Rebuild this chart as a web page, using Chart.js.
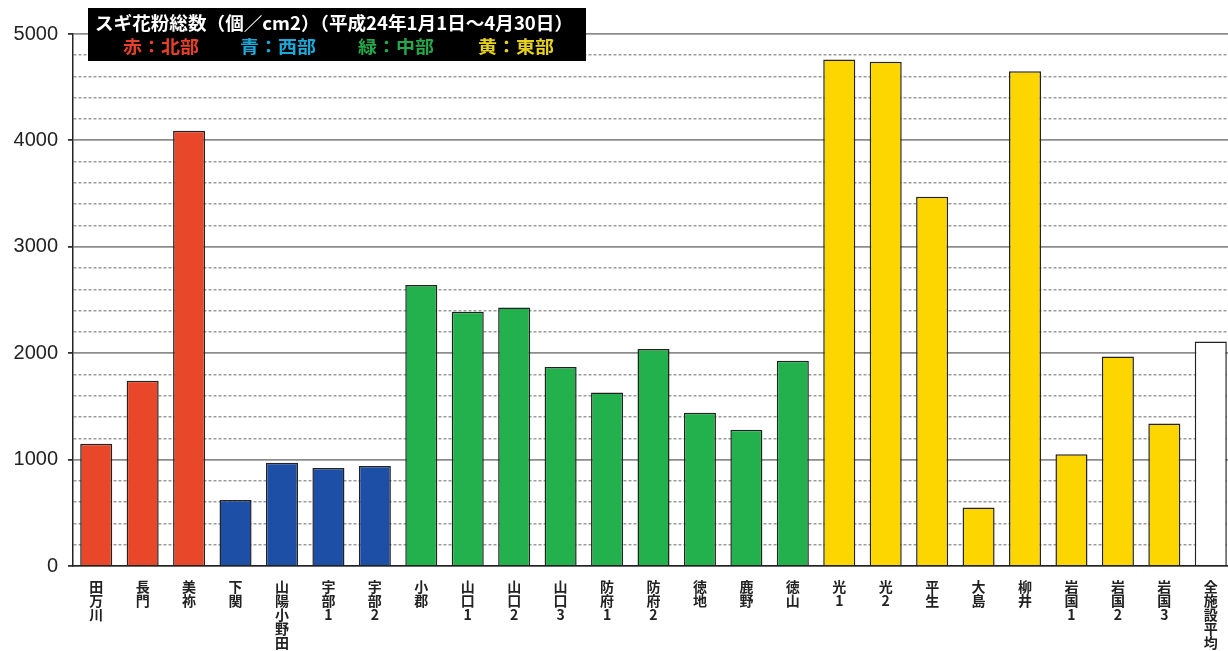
<!DOCTYPE html>
<html lang="ja">
<head>
<meta charset="utf-8">
<title>スギ花粉総数</title>
<script src="https://cdn.jsdelivr.net/npm/chart.js@4.4.3/dist/chart.umd.min.js"></script>
<style>
  html, body { margin: 0; padding: 0; background: #fff; overflow: hidden; }
  .wrap { width: 1234px; height: 651px; }
</style>
</head>
<body>
<div class="wrap"><canvas id="pollenChart"></canvas></div>
<script>
// sites, left to right
const sites = ['田万川', '長門', '美祢', '下関', '山陽小野田', '宇部1', '宇部2',
  '小郡', '山口1', '山口2', '山口3', '防府1', '防府2', '徳地', '鹿野', '徳山',
  '光1', '光2', '平生', '大島', '柳井', '岩国1', '岩国2', '岩国3', '全施設平均'];

// total cedar pollen (個/cm2)
const pollenCounts = [1150, 1740, 4090, 620, 970, 920, 940,
  2640, 2390, 2430, 1870, 1630, 2040, 1440, 1280, 1930,
  4760, 4740, 3470, 550, 4650, 1050, 1970, 1340, 2110];

const siteRegions = ['north', 'north', 'north', 'west', 'west', 'west', 'west',
  'central', 'central', 'central', 'central', 'central', 'central', 'central', 'central', 'central',
  'east', 'east', 'east', 'east', 'east', 'east', 'east', 'east', 'all'];

const regionColors = { north: '#E9472A', west: '#1E4FA6', central: '#22B14C', east: '#FDD600', all: '#FFFFFF' };

const yTicks = [0, 1000, 2000, 3000, 4000, 5000];

const titleText = 'スギ花粉総数（個／cm2）（平成24年1月1日～4月30日）';
const legendLabels = ['赤：北部', '青：西部', '緑：中部', '黄：東部'];
const legendColors = ['#E8402A', '#1CA9D9', '#23A84A', '#E6D21E'];

const isMajor = ctx => ctx.tick && yTicks.includes(ctx.tick.value);

// draw text stretched to a given width
function fitText(c, text, x, y, w) {
  const k = w / c.measureText(text).width;
  c.save();
  c.translate(x, y);
  c.scale(k, 1);
  c.fillText(text, 0, 0);
  c.restore();
}

// black caption box in the top-left corner
const titleBox = {
  id: 'titleBox',
  afterDraw(chart) {
    const c = chart.ctx;
    c.save();
    c.fillStyle = '#000';
    c.fillRect(88, 8, 498, 53);
    c.textBaseline = 'middle';
    c.font = 'bold 18px "Noto Sans CJK JP"';
    c.fillStyle = '#fff';
    fitText(c, titleText, 95, 23, 478);
    const xs = [123, 240, 358, 478];
    c.font = 'bold 17px "Noto Sans CJK JP"';
    legendLabels.forEach((t, i) => {
      c.fillStyle = legendColors[i];
      fitText(c, t, xs[i], 47, 76);
    });
    c.restore();
  }
};

new Chart(document.getElementById('pollenChart'), {
  type: 'bar',
  data: {
    labels: sites.map(s => [...s]),
    datasets: [{
      data: pollenCounts,
      backgroundColor: siteRegions.map(r => regionColors[r]),
      borderColor: '#222',
      borderWidth: 1.5,
      borderSkipped: 'bottom',
      barPercentage: 0.69,
      categoryPercentage: 1
    }]
  },
  options: {
    responsive: true,
    maintainAspectRatio: false,
    animation: false,
    layout: { padding: { top: 34, left: 0, right: 0, bottom: 0 } },
    plugins: { legend: { display: false }, tooltip: { enabled: false } },
    scales: {
      x: {
        grid: { display: false },
        border: { color: '#222', width: 1.5 },
        ticks: {
          autoSkip: false, maxRotation: 0, minRotation: 0,
          color: '#222', padding: 6,
          font: { family: '"Noto Sans CJK JP"', size: 14, weight: 'bold', lineHeight: 1.0 }
        },
        afterFit(scale) { scale.height = 85; }
      },
      y: {
        min: 0, max: 5000,
        ticks: {
          stepSize: 200,
          autoSkip: false,
          maxTicksLimit: 40,
          callback: v => yTicks.includes(v) ? v : '',
          color: '#222', padding: 10,
          font: { family: 'Arial, "Liberation Sans"', size: 20 }
        },
        grid: {
          color: ctx => isMajor(ctx) ? '#8c8c8c' : '#9c9c9c',
          lineWidth: ctx => isMajor(ctx) ? 1.8 : 1.6,
          tickLength: 5,
          tickColor: ctx => isMajor(ctx) ? '#333' : 'rgba(0,0,0,0)'
        },
        border: {
          color: '#222', width: 1.5,
          dash: ctx => ctx.tick && !yTicks.includes(ctx.tick.value) ? [3, 2] : []
        },
        afterFit(scale) { scale.width = 73; }
      }
    }
  },
  plugins: [titleBox]
});
</script>
</body>
</html>
